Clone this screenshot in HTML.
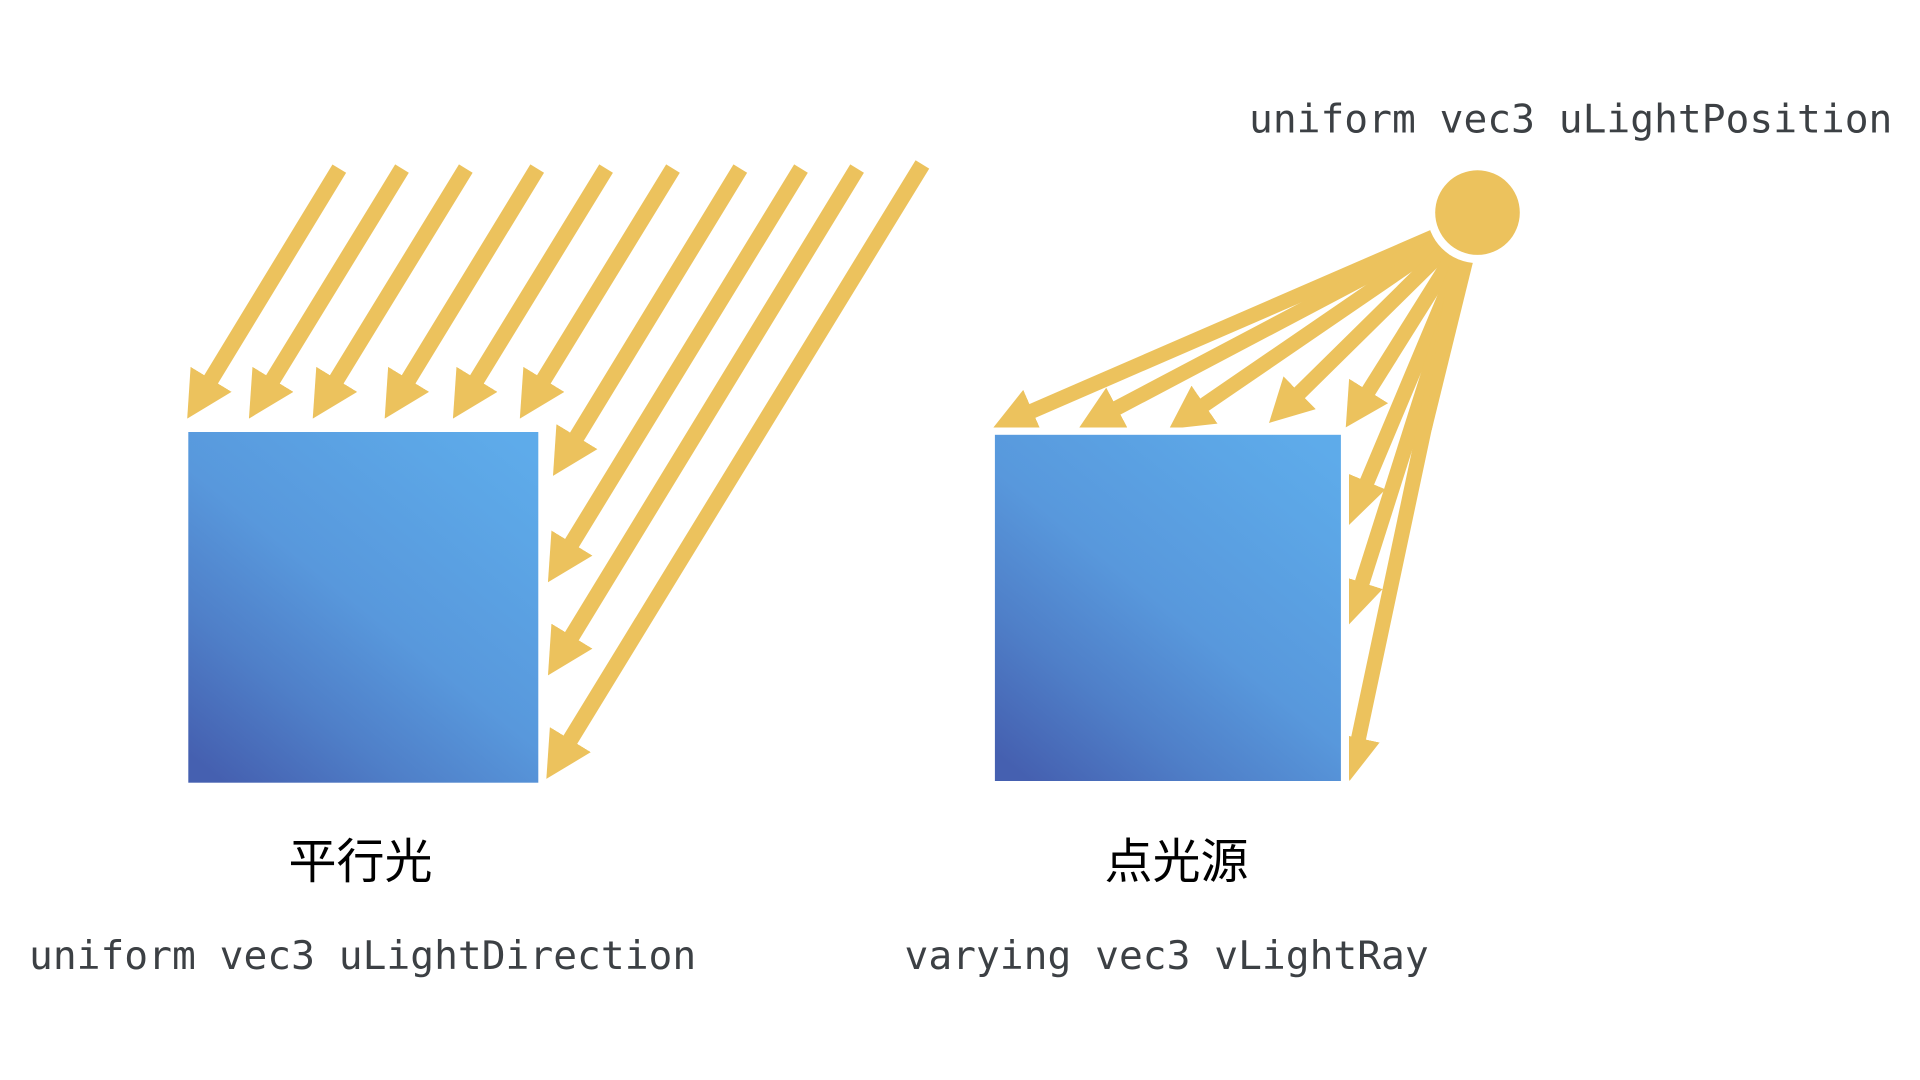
<!DOCTYPE html>
<html>
<head>
<meta charset="utf-8">
<style>
html,body{margin:0;padding:0;background:#fff;width:1920px;height:1080px;overflow:hidden}
svg{display:block}
.m{font-family:"DejaVu Sans Mono","Liberation Mono",monospace;font-size:39.6px;fill:#3c4044}
.c{font-family:"Liberation Sans","Noto Sans CJK SC",sans-serif;font-size:48px;fill:#000}
</style>
</head>
<body>
<svg width="1920" height="1080" viewBox="0 0 1920 1080" xmlns="http://www.w3.org/2000/svg">
<defs>
<linearGradient id="g" x1="0.1" y1="1" x2="0.9" y2="0">
<stop offset="0" stop-color="#4560b0"/>
<stop offset="0.25" stop-color="#4f7fc8"/>
<stop offset="0.5" stop-color="#5898dc"/>
<stop offset="0.85" stop-color="#5ca6e6"/>
<stop offset="1" stop-color="#5eabea"/>
</linearGradient>
<marker id="a" markerUnits="userSpaceOnUse" viewBox="0 0 46 48" markerWidth="46" markerHeight="48" refX="16" refY="24" orient="auto">
<path d="M0,0 L46,24 L0,48 Z" fill="#ecc25d"/>
</marker>
<marker id="b" markerUnits="userSpaceOnUse" viewBox="0 0 43 46" markerWidth="43" markerHeight="46" refX="13" refY="23" orient="auto">
<path d="M0,0 L43,23 L0,46 Z" fill="#ecc25d"/>
</marker>
<marker id="c" markerUnits="userSpaceOnUse" viewBox="0 0 47 40" markerWidth="47" markerHeight="40" refX="17" refY="20" orient="auto">
<path d="M0,0 L47,20 L0,40 Z" fill="#ecc25d"/>
</marker>
<marker id="d" markerUnits="userSpaceOnUse" viewBox="0 0 44 43" markerWidth="44" markerHeight="43" refX="14" refY="21.5" orient="auto">
<path d="M0,0 L44,21.5 L0,43 Z" fill="#ecc25d"/>
</marker>
</defs>

<rect x="188.3" y="432" width="350" height="350.7" fill="url(#g)"/>
<g stroke="#ecc25d" stroke-width="16" fill="none">
<line x1="339.3" y1="168.6" x2="202.8" y2="393" marker-end="url(#a)"/>
<line x1="402" y1="168.6" x2="264.6" y2="393" marker-end="url(#a)"/>
<line x1="465.8" y1="168.6" x2="328.4" y2="393" marker-end="url(#a)"/>
<line x1="537.2" y1="168.6" x2="400.3" y2="393" marker-end="url(#a)"/>
<line x1="606.1" y1="168.6" x2="468.6" y2="393" marker-end="url(#a)"/>
<line x1="673" y1="168.6" x2="535.5" y2="393" marker-end="url(#a)"/>
<line x1="740.3" y1="168.6" x2="568.6" y2="450.3" marker-end="url(#a)"/>
<line x1="801" y1="168.6" x2="563.6" y2="556.7" marker-end="url(#a)"/>
<line x1="857.1" y1="168.6" x2="563.6" y2="649.8" marker-end="url(#a)"/>
<line x1="922.4" y1="164.4" x2="562" y2="753.3" marker-end="url(#a)"/>
</g>

<g stroke="#ecc25d" stroke-width="15" fill="none">
<line x1="1477" y1="218" x2="1020.5" y2="416.1" marker-end="url(#b)"/>
<line x1="1477" y1="218" x2="1105.5" y2="414" marker-end="url(#b)"/>
<line x1="1477" y1="218" x2="1193.8" y2="412" marker-end="url(#b)"/>
<line x1="1477" y1="218" x2="1290.4" y2="401.9" marker-end="url(#b)"/>
<line x1="1477" y1="218" x2="1361.7" y2="402" marker-end="url(#b)"/>
<line x1="1478" y1="218" x2="1360.6" y2="497.3" marker-end="url(#c)"/>
<line x1="1478" y1="218" x2="1358" y2="595.9" marker-end="url(#d)"/>
<line x1="1469" y1="218" x2="1355.7" y2="751.7" marker-end="url(#d)"/>
</g>
<polygon points="1474,258 1431.7,430 1424,430 1450,258" fill="#ecc25d"/>
<rect x="980" y="427.5" width="369" height="8" fill="#fff"/>
<rect x="1335" y="427.5" width="14" height="365" fill="#fff"/>
<rect x="994.9" y="434.8" width="346" height="346.2" fill="url(#g)"/>
<circle cx="1477.5" cy="212.6" r="50.5" fill="#fff"/>
<circle cx="1477.5" cy="212.6" r="42.3" fill="#ecc25d"/>

<text class="m" x="1249" y="132.5">uniform vec3 uLightPosition</text>
<text class="m" x="29" y="969">uniform vec3 uLightDirection</text>
<text class="m" x="904.5" y="969">varying vec3 vLightRay</text>
<text class="c" x="288.5" y="878">平行光</text>
<text class="c" x="1104.5" y="878">点光源</text>
</svg>
</body>
</html>
